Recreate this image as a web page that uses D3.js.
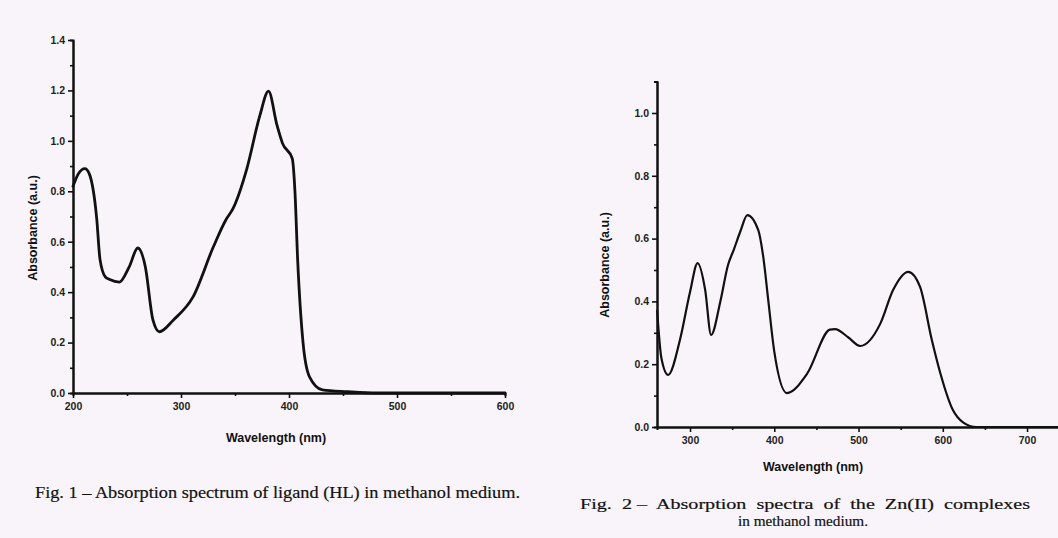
<!DOCTYPE html>
<html>
<head>
<meta charset="utf-8">
<script src="https://cdn.jsdelivr.net/npm/d3@7"></script>
<style>
  body { margin: 0; background: #f9f4f9; }
  svg { display: block; }
  .axis path, .axis line { stroke: #111; }
  .axis path { stroke-width: 2; }
  .axis line { stroke-width: 1.6; }
  .axis text { font-family: "Liberation Sans", Arial, sans-serif; font-weight: bold; font-size: 10.5px; fill: #222; }
  .lab { font-family: "Liberation Sans", Arial, sans-serif; font-weight: bold; font-size: 12.5px; fill: #111; }
  .cap { font-family: "Liberation Serif", "Times New Roman", serif; fill: #111; stroke: #111; stroke-width: 0.2; white-space: pre; }
  .line { fill: none; stroke: #111; stroke-linejoin: round; stroke-linecap: round; }
</style>
</head>
<body>
<div id="chart"></div>
<script>
// Fig. 1 - ligand (HL) spectrum
var wavelength1 = [200, 205, 211, 215, 222, 225, 230, 234, 243, 252, 260, 267, 274, 280, 293, 311, 330, 342, 348, 361, 373, 381, 389, 394, 403, 405.5, 408, 413, 419, 431, 454, 481, 500, 600]
var absorbance1 = [0.82, 0.87, 0.89, 0.87, 0.69, 0.53, 0.46, 0.45, 0.44, 0.50, 0.575, 0.50, 0.29, 0.243, 0.29, 0.38, 0.58, 0.69, 0.73, 0.89, 1.10, 1.197, 1.06, 0.99, 0.93, 0.80, 0.53, 0.20, 0.064, 0.012, 0.005, 0.0, 0.0, 0.0]

// Fig. 2 - Zn(II) complexes
var wavelength2 = [261, 266, 274, 288, 300, 309, 318, 325, 336, 345, 352, 360, 368, 381, 387, 393, 400, 415, 439, 466, 472, 488, 502, 526, 541, 559, 573, 587, 597, 612, 624, 640, 760]
var absorbance2 = [0.37, 0.22, 0.166, 0.277, 0.43, 0.522, 0.436, 0.293, 0.40, 0.515, 0.565, 0.625, 0.675, 0.627, 0.54, 0.40, 0.24, 0.108, 0.17, 0.31, 0.312, 0.285, 0.258, 0.33, 0.436, 0.494, 0.446, 0.277, 0.172, 0.054, 0.015, 0.0, 0.0]

var xTicks1 = [200, 300, 400, 500, 600]
var xMinor1 = [250, 350, 450, 550]
var yTicks1 = [0, 0.2, 0.4, 0.6, 0.8, 1.0, 1.2, 1.4]
var yMinor1 = [0.1, 0.3, 0.5, 0.7, 0.9, 1.1, 1.3]

var xTicks2 = [300, 400, 500, 600, 700]
var xMinor2 = [350, 450, 550, 650]
var yTicks2 = [0, 0.2, 0.4, 0.6, 0.8, 1.0]
var yMinor2 = [0.1, 0.3, 0.5, 0.7, 0.9, 1.1]

var W = 1058, H = 538
var svg = d3.select("#chart").append("svg")
  .attr("width", W)
  .attr("height", H)

var fmt = d3.format(".1f")

function drawPanel(opt) {
  var x = d3.scaleLinear().domain(opt.xDomain).range(opt.xRange)
  var y = d3.scaleLinear().domain(opt.yDomain).range(opt.yRange)
  var g = svg.append("g")

  // minor ticks first, majors on top
  g.append("g").attr("class", "axis")
    .attr("transform", "translate(0," + y(0) + ")")
    .call(d3.axisBottom(x).tickValues(opt.xMinor).tickSize(3).tickFormat(""))
  g.append("g").attr("class", "axis")
    .attr("transform", "translate(0," + y(0) + ")")
    .call(d3.axisBottom(x).tickValues(opt.xTicks).tickSize(5).tickSizeOuter(0).tickPadding(5))
  g.append("g").attr("class", "axis")
    .attr("transform", "translate(" + x(opt.xDomain[0]) + ",0)")
    .call(d3.axisLeft(y).tickValues(opt.yMinor).tickSize(3).tickFormat(""))
  g.append("g").attr("class", "axis")
    .attr("transform", "translate(" + x(opt.xDomain[0]) + ",0)")
    .call(d3.axisLeft(y).tickValues(opt.yTicks).tickSize(5).tickSizeOuter(0).tickFormat(fmt).tickPadding(3))

  var line = d3.line()
    .x(function (d) { return x(d[0]) })
    .y(function (d) { return y(d[1]) })
    .curve(d3.curveMonotoneX)

  g.append("path")
    .datum(d3.zip(opt.wl, opt.ab))
    .attr("class", "line")
    .attr("stroke-width", opt.sw)
    .attr("d", line)

  g.append("text").attr("class", "lab")
    .attr("x", opt.xLab[0]).attr("y", opt.xLab[1])
    .attr("text-anchor", "middle")
    .text("Wavelength (nm)")
  g.append("text").attr("class", "lab")
    .attr("transform", "translate(" + opt.yLab[0] + "," + opt.yLab[1] + ") rotate(-90)")
    .attr("text-anchor", "middle")
    .text("Absorbance (a.u.)")
}

drawPanel({
  wl: wavelength1, ab: absorbance1,
  xDomain: [200, 600], xRange: [73, 505],
  yDomain: [0, 1.4], yRange: [393, 40],
  xTicks: xTicks1, xMinor: xMinor1, yTicks: yTicks1, yMinor: yMinor1,
  sw: 2.8, xLab: [276, 442], yLab: [37, 228]
})

drawPanel({
  wl: wavelength2, ab: absorbance2,
  xDomain: [260.8, 760], xRange: [657, 1077.6],
  yDomain: [0, 1.1], yRange: [427, 81.6],
  xTicks: xTicks2, xMinor: xMinor2, yTicks: yTicks2, yMinor: yMinor2,
  sw: 2.2, xLab: [813, 471], yLab: [609, 265]
})

// captions
svg.append("text").attr("class", "cap")
  .attr("x", 35).attr("y", 498)
  .style("font-size", "17px")
  .attr("textLength", 485).attr("lengthAdjust", "spacingAndGlyphs")
  .text("Fig. 1 \u2013 Absorption spectrum of ligand (HL) in methanol medium.")
svg.append("text").attr("class", "cap")
  .attr("x", 580).attr("y", 509)
  .style("font-size", "15.5px")
  .attr("textLength", 450).attr("lengthAdjust", "spacingAndGlyphs")
  .text("Fig.  2 \u2013  Absorption  spectra  of  the  Zn(II)  complexes")
svg.append("text").attr("class", "cap")
  .attr("x", 738).attr("y", 526)
  .style("font-size", "15px")
  .attr("textLength", 130).attr("lengthAdjust", "spacingAndGlyphs")
  .text("in methanol medium.")
</script>
</body>
</html>
